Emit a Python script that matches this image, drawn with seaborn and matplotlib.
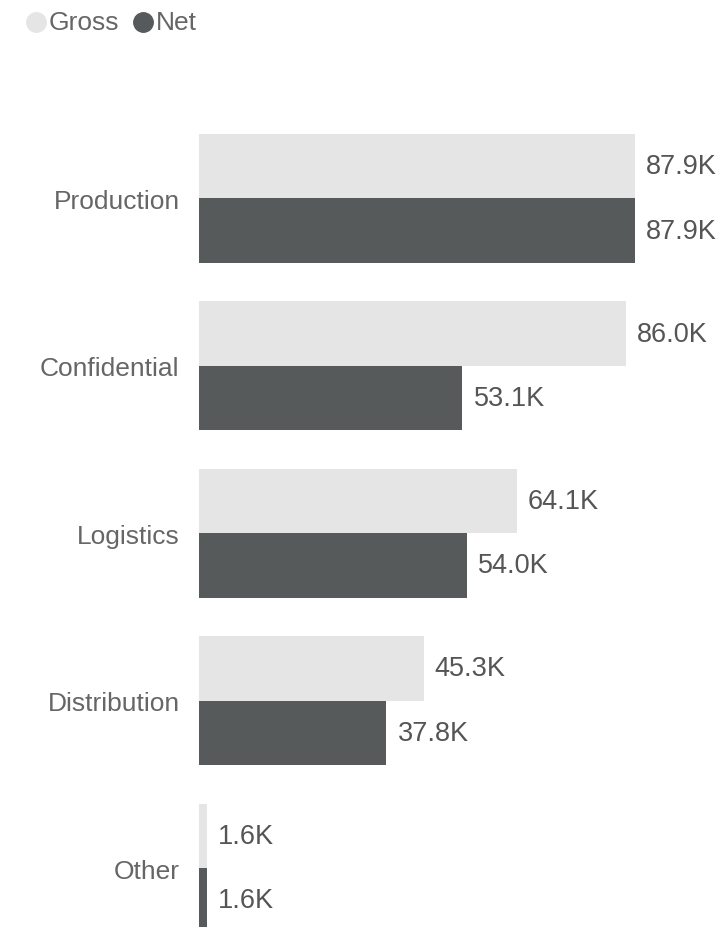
import pandas as pd
import seaborn as sns
import matplotlib.pyplot as plt
from matplotlib.lines import Line2D

sns.set_style("white")
plt.rcParams['font.family'] = ['Liberation Sans', 'DejaVu Sans']

# Data (values in thousands)
categories = ["Production", "Confidential", "Logistics", "Distribution", "Other"]
gross = [87.9, 86.0, 64.1, 45.3, 1.6]
net = [87.9, 53.1, 54.0, 37.8, 1.6]
series = ["Gross", "Net"]
colors = {"Gross": "#E5E5E5", "Net": "#565A5B"}

df = pd.DataFrame({
    "category": categories * 2,
    "value": gross + net,
    "series": ["Gross"] * len(categories) + ["Net"] * len(categories),
})

fig = plt.figure(figsize=(7.17, 9.28), dpi=100)
ax = fig.add_axes([199 / 717, -0.0267, 496 / 717, 0.902])

sns.barplot(data=df, y="category", x="value", hue="series", hue_order=series,
            order=categories, palette=colors, orient="h", width=0.77,
            saturation=1, linewidth=0, legend=False, ax=ax)

for cont in ax.containers:
    ax.bar_label(cont, labels=[f"{v:.1f}K" for v in cont.datavalues],
                 padding=8, fontsize=19.5, color="#555555")

ax.set_xlim(0, 100)
ax.set_ylim(4.5, -0.5)
ax.set_xlabel("")
ax.set_ylabel("")
ax.set_xticks([])
ax.tick_params(axis="y", length=0, pad=14, labelsize=19, labelcolor="#666666")
sns.despine(ax=ax, left=True, bottom=True)

# Legend with round markers at top-left
ly = 1 - 23 / 928
for x_dot, x_txt, name in [(35.5, 49, "Gross"), (143, 156, "Net")]:
    fig.add_artist(Line2D([x_dot / 717], [ly], marker="o", markersize=14,
                          color=colors[name], linestyle="none",
                          transform=fig.transFigure))
    fig.text(x_txt / 717, ly, name, color="#666666", fontsize=19,
             ha="left", va="center")

fig.savefig("out.png", dpi=100)
